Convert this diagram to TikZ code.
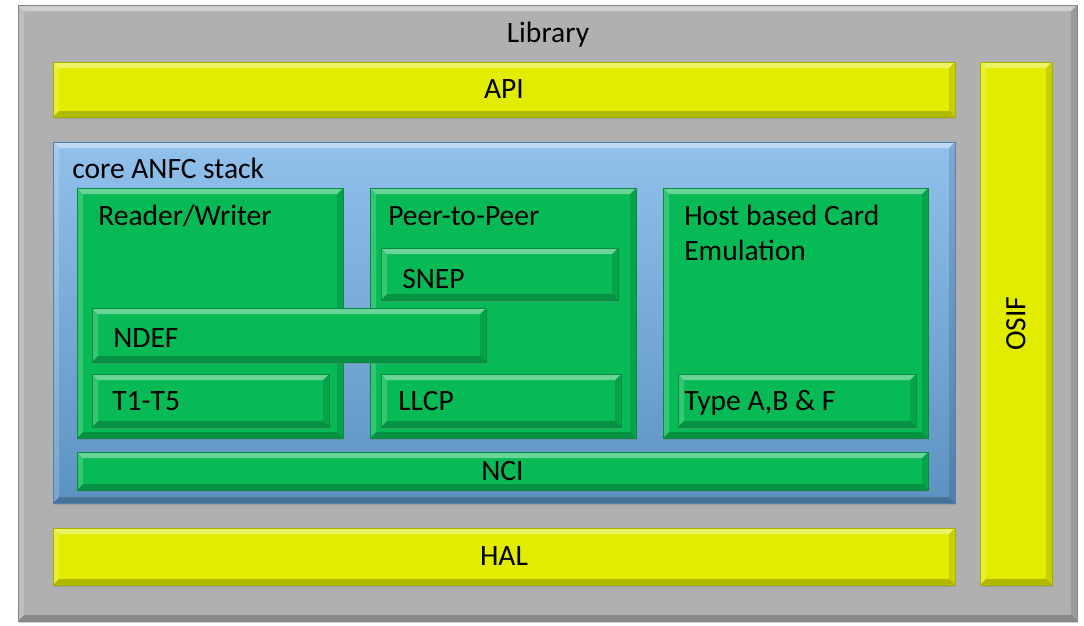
\documentclass[tikz,border=0pt]{standalone}
\usepackage{fontspec}
\setmainfont{Carlito}
\usepackage{xcolor}
\usetikzlibrary{
	calc,
	fit,
	positioning,
	shadows
}
\definecolor{LibGray}{RGB}{176,176,176}
\definecolor{LayerYellow}{RGB}{226,236,0}
\definecolor{StackBlue}{RGB}{108,172,228}
\definecolor{BlockGreen}{RGB}{8,186,86}

\newcommand{\bv}{6}
\tikzset{
	bevel/.style={path picture={
		\coordinate (pnw) at (path picture bounding box.north west);
		\coordinate (pne) at (path picture bounding box.north east);
		\coordinate (psw) at (path picture bounding box.south west);
		\coordinate (pse) at (path picture bounding box.south east);
		\fill[white, opacity=.4] (pnw) -- (pne) -- ($(pne)+(-\bv,\bv)$) -- ($(pnw)+(\bv,\bv)$) -- cycle;
		\fill[white, opacity=.18] (pnw) -- ($(pnw)+(\bv,\bv)$) -- ($(psw)+(\bv,-\bv)$) -- (psw) -- cycle;
		\fill[black, opacity=.22] (psw) -- (pse) -- ($(pse)+(-\bv,-\bv)$) -- ($(psw)+(\bv,-\bv)$) -- cycle;
		\fill[black, opacity=.12] (pne) -- (pse) -- ($(pse)+(-\bv,-\bv)$) -- ($(pne)+(-\bv,\bv)$) -- cycle;
	}},
	blk/.style={rectangle, inner sep=0pt, fill=#1, draw=#1!75!black, line width=0.3pt, bevel,
		drop shadow={shadow xshift=1pt, shadow yshift=-1.5pt, opacity=.35}},
	lbl/.style={font=\fontsize{21}{25}\selectfont, text=black, inner sep=0pt},
	tag/.style={lbl, anchor=base west}
}

\begin{document}
\begin{tikzpicture}[x=0.025cm, y=-0.025cm]
	\useasboundingbox (0,0) rectangle (1084,625);
	% Library
	\node[blk=LibGray, fit={(18,5) (1077,621)}] (lib) {};
	\node[lbl] (libtxt) at (548,35) {Library};
	% API, HAL, OSIF
	\node[blk=LayerYellow, fit={(53,62) (955,117)}] (api) {};
	\node[lbl] (apitxt) at (api.center) {API};
	\node[blk=LayerYellow, fit={(53,528) (955,585)}] (hal) {};
	\node[lbl] (haltxt) at (hal.center) {HAL};
	\node[blk=LayerYellow, fit={(980,62) (1052,585)}] (osif) {};
	\node[lbl, rotate=90] (osiftxt) at (osif.center) {OSIF};
	% core stack
	\node[blk=StackBlue, top color=StackBlue!75!white, bottom color=StackBlue!85!black,
		fit={(53,142) (955,503)}] (core) {};
	\node[tag] (coretxt) at (72,178) {core ANFC stack};
	% Reader/Writer
	\node[blk=BlockGreen, fit={(77,188) (343,438)}] (rw) {};
	\node[tag] (rwtxt) at (98,225) {Reader/Writer};
	% Peer-to-Peer
	\node[blk=BlockGreen, fit={(370,188) (636,438)}] (p2p) {};
	\node[tag] (p2ptxt) at (388,225) {Peer-to-Peer};
	\node[blk=BlockGreen, fit={(381,248) (618,300)}] (snep) {};
	\node[tag] (sneptxt) at (402,288) {SNEP};
	\node[blk=BlockGreen, fit={(381,374) (621,427)}] (llcp) {};
	\node[tag] (llcptxt) at (398,410) {LLCP};
	% Host based Card Emulation
	\node[blk=BlockGreen, fit={(663,188) (928,438)}] (hce) {};
	\node[tag] (hcetxt) at (684,225) {Host based Card};
	\node[tag] (hcetxt2) at (684,260) {Emulation};
	\node[blk=BlockGreen, fit={(678,374) (916,427)}] (typeabf) {};
	\node[tag] (typeabftxt) at (684,410) {Type A,B \& F};
	% NDEF, T1-T5
	\node[blk=BlockGreen, fit={(92,308) (486,362)}] (ndef) {};
	\node[tag] (ndeftxt) at (113,347) {NDEF};
	\node[blk=BlockGreen, fit={(92,374) (329,427)}] (tags) {};
	\node[tag] (tagstxt) at (112,410) {T1-T5};
	% NCI
	\node[blk=BlockGreen, fit={(77,452) (928,490)}] (nci) {};
	\node[lbl] (ncitxt) at (nci.center) {NCI};
\end{tikzpicture}
\end{document}
